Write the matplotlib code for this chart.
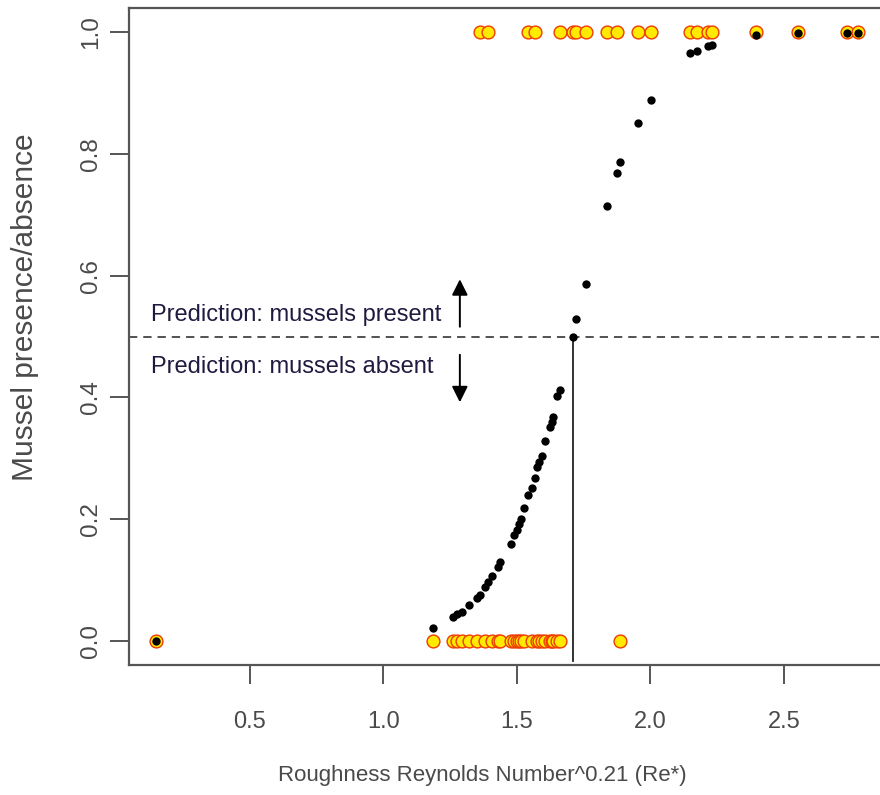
import matplotlib
matplotlib.use("Agg")
import matplotlib.pyplot as plt

plt.rcParams['font.family'] = ['Liberation Sans', 'DejaVu Sans']

# observed sites: mussels present (1) and absent (0)
present_x = [1.361, 1.393, 1.542, 1.567, 1.661, 1.709, 1.721, 1.758, 1.838, 1.873,
             1.952, 2.001, 2.148, 2.175, 2.216, 2.229, 2.395, 2.552, 2.736, 2.777]
absent_x = [0.148, 1.184, 1.259, 1.274, 1.293, 1.321, 1.349, 1.380, 1.405, 1.430,
            1.436, 1.476, 1.490, 1.499, 1.507, 1.514, 1.526, 1.555, 1.574, 1.582,
            1.592, 1.605, 1.624, 1.630, 1.634, 1.651, 1.661, 1.886]

# fitted probabilities from the logistic model at each site
fit_x = [0.148, 1.184, 1.259, 1.274, 1.293, 1.321, 1.349, 1.361, 1.380, 1.393,
         1.405, 1.430, 1.436, 1.476, 1.490, 1.499, 1.507, 1.514, 1.526, 1.542,
         1.555, 1.567, 1.574, 1.582, 1.592, 1.605, 1.624, 1.630, 1.634, 1.651,
         1.661, 1.709, 1.721, 1.758, 1.838, 1.873, 1.886, 1.952, 2.001, 2.148,
         2.175, 2.216, 2.229, 2.395, 2.552, 2.736, 2.777]
fit_p = [0.000, 0.022, 0.040, 0.044, 0.048, 0.059, 0.070, 0.076, 0.089, 0.097,
         0.106, 0.122, 0.130, 0.159, 0.174, 0.182, 0.192, 0.201, 0.218, 0.240,
         0.251, 0.267, 0.286, 0.294, 0.303, 0.329, 0.352, 0.360, 0.368, 0.402,
         0.412, 0.500, 0.529, 0.587, 0.714, 0.769, 0.786, 0.851, 0.888, 0.966,
         0.969, 0.977, 0.979, 0.995, 0.998, 0.999, 0.999]

threshold_x = 1.709
xticks = [0.5, 1.0, 1.5, 2.0, 2.5]
yticks = [0.0, 0.2, 0.4, 0.6, 0.8, 1.0]

W, H = 880, 795
fig = plt.figure(figsize=(W / 100, H / 100), dpi=100)
ax = fig.add_axes([128.5 / W, (H - 665.4) / H, 758.3 / W, 657.8 / H])
ax.set_xlim(0.045, 2.885)
ax.set_ylim(-0.04, 1.04)

gray = '#555555'
txt = '#4a4a4a'

ax.axhline(0.5, color='#444444', lw=1.3, dashes=(4.6, 3.3), zorder=1)
ax.plot([threshold_x, threshold_x], [0.5, -0.032], color='#222222', lw=1.3, zorder=1)

circ = dict(s=85, facecolor='#ffea00', edgecolor='#ee3a00', linewidths=1.0, zorder=3)
ax.scatter(present_x, [1] * len(present_x), **circ)
ax.scatter(absent_x, [0] * len(absent_x), **circ)
ax.scatter(fit_x, fit_p, s=36, color='black', linewidths=0, zorder=4)

note_col = '#1f1a40'
ax.text(0.128, 0.535, 'Prediction: mussels present', fontsize=17, color=note_col,
        va='center', ha='left')
ax.text(0.128, 0.4504, 'Prediction: mussels absent', fontsize=17, color=note_col,
        va='center', ha='left')
arrow = dict(arrowstyle='-|>', color='black', lw=1.4, mutation_scale=24,
             shrinkA=0, shrinkB=0)
ax.annotate('', xy=(1.286, 0.594), xytext=(1.286, 0.516), arrowprops=arrow)
ax.annotate('', xy=(1.286, 0.392), xytext=(1.286, 0.470), arrowprops=arrow)

for side in ['left', 'bottom', 'top', 'right']:
    ax.spines[side].set_color(gray)
    ax.spines[side].set_linewidth(1.6)

ax.set_xticks(xticks)
ax.set_xticklabels([f'{v:.1f}' for v in xticks])
ax.set_yticks(yticks)
ax.set_yticklabels([f'{v:.1f}' for v in yticks], rotation=90, va='center')
ax.tick_params(axis='both', direction='out', length=14, width=1.4, color=gray,
               labelcolor=txt)
ax.tick_params(axis='x', pad=19, labelsize=17)
ax.tick_params(axis='y', pad=5, labelsize=17.5)

ax.set_xlabel('Roughness Reynolds Number^0.21 (Re*)', fontsize=16, color=txt)
ax.set_ylabel('Mussel presence/absence', fontsize=21.5, color=txt)
ax.xaxis.set_label_coords((482 - 128.5) / 758.3, (665.4 - 776) / 657.8)
ax.xaxis.label.set_va('center')
ax.yaxis.set_label_coords((25 - 128.5) / 758.3, (665.4 - 307) / 657.8)
ax.yaxis.label.set_va('center')

fig.savefig('out.png', dpi=100)
